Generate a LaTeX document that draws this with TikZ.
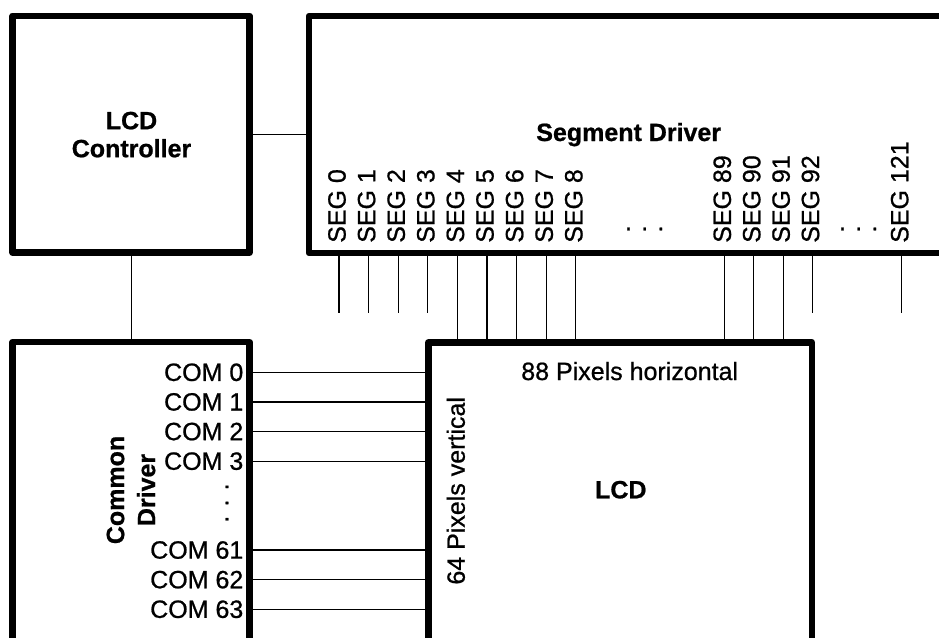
\documentclass[tikz,border=0pt]{standalone}
\usepackage{fontspec}
\setmainfont{Liberation Sans}[UprightFeatures={FakeBold=0.8}, BoldFeatures={FakeBold=0.8}]
\begin{document}
\begin{tikzpicture}[x=1pt,y=-1pt,
  box/.style={draw, line width=6.5pt, line join=round, inner sep=0pt},
  wire/.style={line width=1.2pt},
  txt/.style={inner sep=0pt, font=\fontsize{25}{30}\selectfont},
  btxt/.style={inner sep=0pt, font=\fontsize{25}{30}\selectfont\bfseries},
  seglbl/.style={txt, rotate=90, anchor=west},
  comlbl/.style={txt, anchor=east}]
\useasboundingbox (0,0) rectangle (939,637);
\clip (0,0) rectangle (939,637);
% blocks
\node[box, minimum width=236.8pt, minimum height=236.9pt] (ctrl) at (131.1,134.25) {};
\node[box, minimum width=700pt, minimum height=237pt] (seg) at (659,134.5) {};
\node[box, minimum width=236.8pt, minimum height=360pt] (com) at (131.1,522) {};
\node[box, minimum width=383.7pt, minimum height=360pt] (lcd) at (620.15,522.5) {};
% block labels
\node[btxt, align=center, font=\fontsize{25}{28}\selectfont\bfseries] (ctrlt) at (131.5,134.6) {LCD\\Controller};
\node[btxt, anchor=base] (segt) at (628.7,141) {Segment Driver};
\node[btxt, rotate=90, align=center, font=\fontsize{25}{31}\selectfont\bfseries] (comt) at (131,490) {Common\\Driver};
\node[txt, anchor=base] (hpx) at (629.7,380) {88 Pixels horizontal};
\node[txt, rotate=90] (vpx) at (455.8,490.8) {64 Pixels vertical};
\node[btxt, anchor=base] (lcdt) at (620.8,498.3) {LCD};
% controller links
\draw[wire] (ctrl.east) -- (ctrl.east -| seg.west);
\draw[wire] (ctrl.south) -- (com.north);
% common lines
\foreach \k/\t in {0/0,1/1,2/2,3/3,6/61,7/62,8/63} {
  \node[comlbl] (c\t) at (243.5,372.3+29.62*\k) {COM \t};
  \draw[wire] (c\t.east -| com.east) -- (c\t.east -| lcd.west);
}
\node[txt, rotate=90] (cdots) at (227,503) {. . .};
% segment lines
\foreach \x/\t/\l in {339/0/0, 368.6/1/0, 398.2/2/0, 427.8/3/0, 457.4/4/1, 487/5/1, 516.6/6/1, 546.2/7/1, 575.8/8/1, 724.3/89/1, 753.7/90/1, 783.1/91/1, 812.5/92/0, 901.7/121/0} {
  \node[seglbl] (s\t) at (\x-2,243) {SEG \t};
  \coordinate (e\t) at (\x,313);
  \ifnum\l=1
    \draw[wire] (e\t |- seg.south) -- (e\t |- lcd.north);
  \else
    \draw[wire] (e\t |- seg.south) -- (e\t);
  \fi
}
\node[txt] (hd1) at (644.7,229) {. . .};
\node[txt] (hd2) at (858.7,229) {. . .};
\end{tikzpicture}
\end{document}
